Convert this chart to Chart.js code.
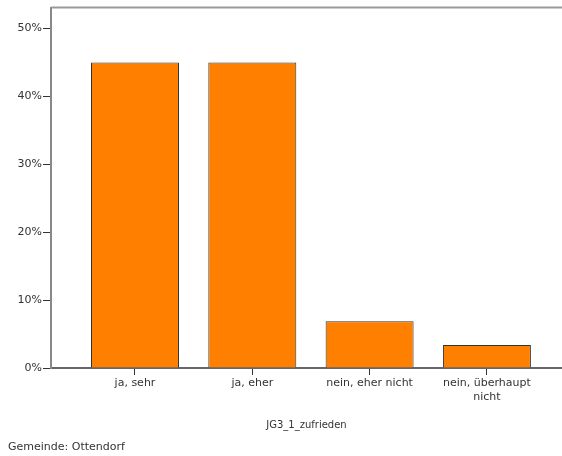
<!DOCTYPE html>
<html>
<head>
<meta charset="utf-8">
<script src="https://cdn.jsdelivr.net/npm/chart.js@4/dist/chart.umd.min.js"></script>
<style>
  html, body { margin: 0; padding: 0; background: #fff; overflow: hidden; }
  #wrap { position: relative; width: 562px; height: 456px; }
  #footer { position: absolute; left: 8px; top: 440px; font: 11px "DejaVu Sans", sans-serif; color: #333; }
</style>
</head>
<body>
<div id="wrap">
  <canvas id="chart" width="562" height="456"></canvas>
  <div id="footer">Gemeinde: Ottendorf</div>
</div>
<script>
const categories = ['ja, sehr', 'ja, eher', 'nein, eher nicht', ['nein, überhaupt', 'nicht']];
const percents = [45.0, 45.0, 6.9, 3.4];
const yTicks = [0, 10, 20, 30, 40, 50];
const xTitle = 'JG3_1_zufrieden';

const font = { family: '"DejaVu Sans", sans-serif', size: 11 };

// top frame line of the plot
const frameTop = {
  id: 'frameTop',
  afterDraw(chart){
    const { ctx, chartArea } = chart;
    ctx.save();
    ctx.strokeStyle = '#999';
    ctx.lineWidth = 2;
    ctx.beginPath();
    ctx.moveTo(chartArea.left, chartArea.top);
    ctx.lineTo(chartArea.right, chartArea.top);
    ctx.stroke();
    ctx.restore();
  }
};

new Chart(document.getElementById('chart'), {
  type: 'bar',
  data: {
    datasets: [{
      data: percents.map((v, i) => ({ x: i, y: v })),
      backgroundColor: '#ff8000',
      borderColor: '#333',
      borderWidth: 1,
      barPercentage: 0.75,
      categoryPercentage: 1
    }]
  },
  options: {
    responsive: false,
    animation: false,
    layout: { padding: { top: 7, right: 0, bottom: 25, left: 0 } },
    plugins: { legend: { display: false }, tooltip: { enabled: false } },
    scales: {
      x: {
        type: 'linear',
        offset: false,
        min: -0.716,
        max: 3.64,
        afterBuildTicks(scale){ scale.ticks = [0, 1, 2, 3].map(v => ({ value: v })); },
        afterFit(scale){ scale.height = 63; },
        ticks: {
          autoSkip: false,
          maxRotation: 0,
          padding: 2,
          color: '#333',
          font,
          callback: v => categories[v]
        },
        grid: { offset: false, drawOnChartArea: false, drawTicks: true, tickLength: 7, color: '#333', tickWidth: 1 },
        border: { color: '#666', width: 2 },
        title: { display: true, text: xTitle, color: '#333', font: { family: font.family, size: 10 }, padding: { top: 4, bottom: 0 } }
      },
      y: {
        min: 0,
        max: 53.1,
        afterBuildTicks(scale){ scale.ticks = yTicks.map(v => ({ value: v })); },
        afterFit(scale){ scale.width = 51; },
        ticks: { color: '#333', font, padding: 1, callback: v => v + '%' },
        grid: { drawOnChartArea: false, drawTicks: true, tickLength: 8, color: '#333' },
        border: { color: '#888', width: 2 }
      }
    }
  },
  plugins: [frameTop]
});
</script>
</body>
</html>
